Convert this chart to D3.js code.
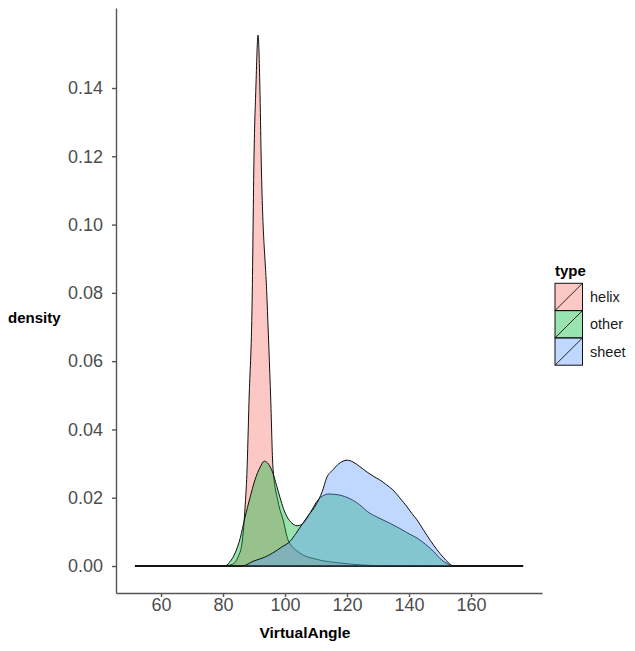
<!DOCTYPE html>
<html>
<head>
<meta charset="utf-8">
<script src="https://cdn.jsdelivr.net/npm/d3@7/dist/d3.min.js"></script>
<style>
    body { margin: 0; background: #fff; }
    svg { font-family: "Liberation Sans", Arial, sans-serif; }
    .axis path, .axis line { stroke: #555; stroke-width: 1.4; }
    .axis text { fill: #4d4d4d; font-size: 18px; }
</style>
</head>
<body>
<svg id="chart" width="635" height="651"></svg>
<script>
// density estimates, [VirtualAngle, density]
var helix = [
    [51.6, 0], [80, 0], [83, 0.0005], [85, 0.003], [86, 0.006], [86.5, 0.0097],
    [87.1, 0.017], [87.7, 0.027], [88.4, 0.0486], [89.4, 0.078], [90, 0.12],
    [90.6, 0.14], [91.3, 0.1555], [91.9, 0.14], [92.3, 0.12], [94.2, 0.078],
    [95.4, 0.0486], [96.1, 0.029], [97.7, 0.019], [99.4, 0.0135], [101, 0.0076],
    [104.8, 0.0038], [110, 0.002], [117.7, 0.0009], [125, 0.0003], [135, 0], [176.8, 0]
];
var other = [
    [51.6, 0], [80.6, 0], [82, 0.001], [83.9, 0.0038], [85.5, 0.008], [87.1, 0.0143],
    [88.7, 0.02], [90.3, 0.0252], [92, 0.029], [93.3, 0.0307], [94.7, 0.0298],
    [96.1, 0.0272], [97.3, 0.0235], [98.4, 0.02], [99.5, 0.0168], [100.6, 0.0145],
    [102.2, 0.0126], [103.9, 0.0118], [105.5, 0.0122], [107.1, 0.014], [108.7, 0.0165],
    [110.6, 0.0193], [112.5, 0.0207], [114.2, 0.0211], [116, 0.021], [118, 0.0207],
    [120.3, 0.02], [122, 0.0192], [124, 0.018], [126.5, 0.016], [130, 0.0142],
    [133.9, 0.0125], [137, 0.011], [140.3, 0.0093], [142.6, 0.0082], [145.8, 0.006],
    [148, 0.0042], [150, 0.0022], [152.6, 0.0006], [155, 0], [176.8, 0]
];
var sheet = [
    [51.6, 0], [86.1, 0], [90, 0.0015], [93.5, 0.0026], [96, 0.0038], [99, 0.0056],
    [101.6, 0.0072], [103.5, 0.0095], [105.5, 0.0122], [107.5, 0.0148], [109.5, 0.0172],
    [110.9, 0.0195], [112, 0.0218], [113.5, 0.026], [115.5, 0.0282], [117, 0.0297],
    [118.7, 0.0307], [120, 0.031], [121.9, 0.0305], [124, 0.0292], [126.5, 0.0275],
    [128.5, 0.0263], [130.6, 0.0252], [132.7, 0.0238], [134.8, 0.0223], [137, 0.02],
    [139.4, 0.0173], [141, 0.0153], [142.6, 0.0135], [144.7, 0.0105], [146.8, 0.0076],
    [149, 0.0048], [151, 0.0026], [152.7, 0.001], [154.2, 0], [176.8, 0]
];

var typeNames = ["helix", "other", "sheet"];
var typeColors = ["#F8766D", "#00BA38", "#619CFF"];
var xTicks = [60, 80, 100, 120, 140, 160];
var yTicks = [0, 0.02, 0.04, 0.06, 0.08, 0.10, 0.12, 0.14];

var series = [helix, other, sheet];

var svg = d3.select("#chart");

// panel edges in px
var panel = {left: 116, right: 542, top: 8, bottom: 593};

var x = d3.scaleLinear()
          .domain([45.48, 182.9])
          .range([panel.left, panel.right]);
var y = d3.scaleLinear()
          .domain([-0.0079, 0.16343])
          .range([panel.bottom, panel.top]);

// densities, drawn in factor order so sheet ends on top
var area = d3.area()
             .x(function (d) { return x(d[0]); })
             .y0(y(0))
             .y1(function (d) { return y(d[1]); })
             .curve(d3.curveMonotoneX);

svg.append("g")
   .selectAll("path")
   .data(series)
   .enter()
   .append("path")
   .attr("d", function (d) { return area(d) + "Z"; })
   .attr("fill", function (d, i) { return typeColors[i]; })
   .attr("fill-opacity", 0.4)
   .attr("stroke", "#111")
   .attr("stroke-width", 1)
   .attr("stroke-linejoin", "round");

// axes
svg.append("g")
   .attr("class", "axis axis-y")
   .attr("transform", "translate(" + panel.left + ",0)")
   .call(d3.axisLeft(y)
           .tickValues(yTicks)
           .tickFormat(d3.format(".2f"))
           .tickSize(4)
           .tickSizeOuter(0)
           .tickPadding(9));

svg.append("g")
   .attr("class", "axis axis-x")
   .attr("transform", "translate(0," + panel.bottom + ")")
   .call(d3.axisBottom(x)
           .tickValues(xTicks)
           .tickFormat(d3.format("d"))
           .tickSize(4)
           .tickSizeOuter(0)
           .tickPadding(1));

svg.selectAll(".axis text").attr("font-family", null).attr("font-size", null);

// axis titles
svg.append("text")
   .attr("x", 8)
   .attr("y", 323)
   .attr("font-weight", "bold")
   .attr("font-size", 15)
   .text("density");

svg.append("text")
   .attr("x", 305)
   .attr("y", 638)
   .attr("text-anchor", "middle")
   .attr("font-weight", "bold")
   .attr("font-size", 15.5)
   .text("VirtualAngle");

// legend
var legend = svg.append("g").attr("transform", "translate(555,283.3)");
var KEY_W = 27.5, KEY_H = 27.3;

legend.append("text")
      .attr("x", 0)
      .attr("y", -7)
      .attr("font-weight", "bold")
      .attr("font-size", 15)
      .text("type");

var keys = legend.selectAll(".key")
                 .data(typeNames)
                 .enter()
                 .append("g")
                 .attr("class", "key")
                 .attr("transform", function (d, i) { return "translate(0," + (i * KEY_H) + ")"; });

keys.append("rect")
    .attr("width", KEY_W)
    .attr("height", KEY_H)
    .attr("fill", function (d, i) { return typeColors[i]; })
    .attr("fill-opacity", 0.4)
    .attr("stroke", "#111")
    .attr("stroke-width", 1);

keys.append("line")
    .attr("x1", 0)
    .attr("y1", KEY_H)
    .attr("x2", KEY_W)
    .attr("y2", 0)
    .attr("stroke", "#111")
    .attr("stroke-width", 0.9);

keys.append("text")
    .attr("x", 35)
    .attr("y", KEY_H / 2)
    .attr("dy", "0.36em")
    .attr("font-size", 14.5)
    .attr("fill", "#1a1a1a")
    .text(function (d) { return d; });
</script>
</body>
</html>
